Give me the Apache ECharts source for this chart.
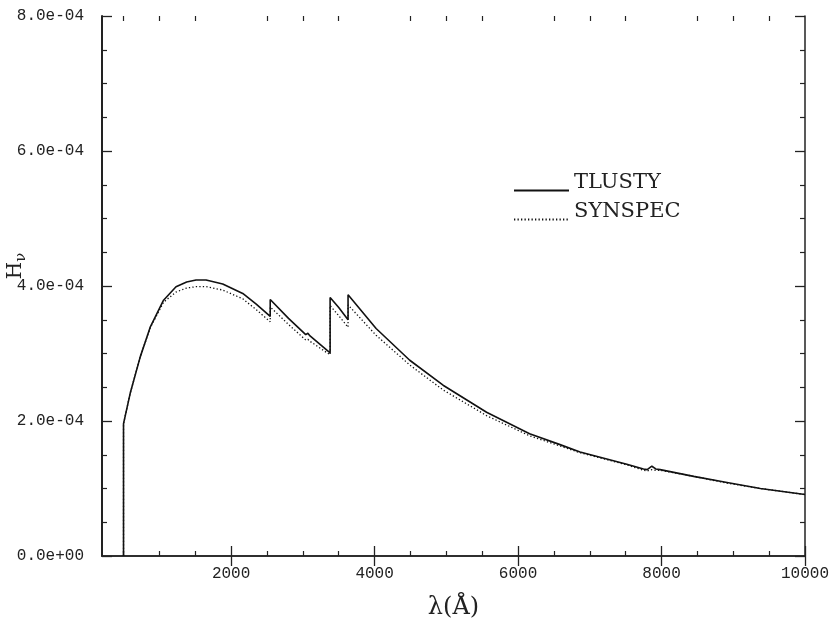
<!DOCTYPE html>
<html>
<head>
<meta charset="utf-8">
<script src="https://cdn.jsdelivr.net/npm/echarts@6/dist/echarts.min.js"></script>
<style>
html,body{margin:0;padding:0;background:#fff;}
#chart{width:833px;height:622px;}
</style>
</head>
<body>
<div id="chart"></div>
<script>
// ---- data (wavelength in Angstrom, H_nu) ----
const lambdaTlusty = [500, 500, 593, 733, 872, 1058, 1232, 1380, 1511, 1651, 1883, 2162, 2350, 2545, 2545, 2800, 3040, 3070, 3100, 3380, 3380, 3500, 3630, 3630, 4021, 4490, 4955, 5561, 6161, 6585, 6864, 7050, 7516, 7748, 7800, 7865, 7920, 7981, 8447, 8913, 9378, 10000];
const hTlusty = [0, 1.96e-4, 2.41e-4, 2.95e-4, 3.39e-4, 3.79e-4, 3.99e-4, 4.06e-4, 4.09e-4, 4.09e-4, 4.03e-4, 3.89e-4, 3.73e-4, 3.55e-4, 3.80e-4, 3.52e-4, 3.28e-4, 3.30e-4, 3.26e-4, 3.01e-4, 3.83e-4, 3.68e-4, 3.50e-4, 3.87e-4, 3.37e-4, 2.90e-4, 2.53e-4, 2.13e-4, 1.81e-4, 1.65e-4, 1.54e-4, 1.49e-4, 1.36e-4, 1.29e-4, 1.28e-4, 1.33e-4, 1.29e-4, 1.28e-4, 1.18e-4, 1.09e-4, 1.00e-4, 0.91e-4];

const lambdaSynspec = [500, 500, 593, 733, 872, 1058, 1232, 1380, 1511, 1651, 1883, 2162, 2350, 2545, 2545, 2800, 3040, 3070, 3100, 3380, 3380, 3500, 3630, 3630, 4021, 4490, 4955, 5561, 6161, 6585, 6864, 7050, 7516, 7748, 7800, 7865, 7920, 7981, 8447, 8913, 9378, 10000];
const hSynspec = [0, 1.96e-4, 2.41e-4, 2.95e-4, 3.38e-4, 3.76e-4, 3.91e-4, 3.97e-4, 3.99e-4, 3.99e-4, 3.94e-4, 3.81e-4, 3.65e-4, 3.47e-4, 3.69e-4, 3.43e-4, 3.20e-4, 3.21e-4, 3.18e-4, 2.98e-4, 3.71e-4, 3.56e-4, 3.39e-4, 3.72e-4, 3.27e-4, 2.83e-4, 2.46e-4, 2.08e-4, 1.78e-4, 1.63e-4, 1.53e-4, 1.48e-4, 1.35e-4, 1.27e-4, 1.26e-4, 1.28e-4, 1.27e-4, 1.27e-4, 1.18e-4, 1.08e-4, 1.00e-4, 0.91e-4];

const seriesNames = ['TLUSTY', 'SYNSPEC'];
const xMajorTicks = [2000, 4000, 6000, 8000, 10000];
const xMinorTicks = [500, 1000, 1500, 2500, 3000, 3500, 4500, 5000, 5500, 6500, 7000, 7500, 8500, 9000, 9500];
const yTickLabels = ['0.0e+00', '2.0e-04', '4.0e-04', '6.0e-04', '8.0e-04'];
const xMin = 200, xMax = 10000, yMin = 0, yMax = 8e-4, yStep = 2e-4;

function pairs(xs, ys) { return xs.map((x, i) => [x, ys[i]]); }

const axisColor = '#222';
const gridRect = { left: 102, right: 28, top: 16, bottom: 66 };
const tickFont = 'Liberation Mono';

const chart = echarts.init(document.getElementById('chart'), null, { renderer: 'canvas' });

function xAxisMajor(pos, gridIndex, showLabel) {
  return {
    type: 'value', gridIndex: gridIndex, position: pos, min: xMin, max: xMax,
    axisLine: { show: true, lineStyle: { color: axisColor, width: 1.5 } },
    axisTick: { show: true, inside: true, length: 10, customValues: xMajorTicks, lineStyle: { color: axisColor, width: 1.3 } },
    axisLabel: {
      show: showLabel, customValues: xMajorTicks, margin: 10,
      formatter: v => String(v),
      fontFamily: tickFont, fontSize: 16, color: axisColor
    },
    splitLine: { show: false }
  };
}
function xAxisMinor(pos, gridIndex) {
  return {
    type: 'value', gridIndex: gridIndex, position: pos, min: xMin, max: xMax,
    axisLine: { show: false },
    axisTick: { show: true, inside: true, length: 5, customValues: xMinorTicks, lineStyle: { color: axisColor, width: 1.2 } },
    axisLabel: { show: false },
    splitLine: { show: false }
  };
}
function yAxisDef(pos, showLabel, width) {
  return {
    type: 'value', gridIndex: 0, position: pos, min: yMin, max: yMax, interval: yStep,
    axisLine: { show: true, lineStyle: { color: axisColor, width: width } },
    axisTick: { show: true, inside: true, length: 10, lineStyle: { color: axisColor, width: 1.3 } },
    minorTick: { show: true, splitNumber: 4, length: 5, lineStyle: { color: axisColor, width: 1.2 } },
    axisLabel: {
      show: showLabel, margin: 18,
      formatter: (v, i) => yTickLabels[i],
      fontFamily: tickFont, fontSize: 16, color: axisColor
    },
    splitLine: { show: false }, minorSplitLine: { show: false }
  };
}

const xAxes = [
  Object.assign(xAxisMajor('bottom', 0, true), {
    name: 'λ(Å)', nameLocation: 'middle', nameGap: 40,
    nameTextStyle: { fontFamily: 'DejaVu Serif', fontSize: 24, color: axisColor }
  }),
  xAxisMajor('top', 0, false),
  xAxisMinor('bottom', 1),
  xAxisMinor('top', 1)
];
const yLeft = Object.assign(yAxisDef('left', true, 2), {
  name: '{h|H}{n|ν}', nameLocation: 'middle', nameGap: 73, nameRotate: 90,
  nameMoveOverlap: false,
  nameTextStyle: {
    padding: [0, 0, 0, 40],
    rich: {
      h: { fontFamily: 'DejaVu Serif', fontSize: 20, color: axisColor },
      n: { fontFamily: 'DejaVu Serif', fontSize: 15, color: axisColor, padding: [12, 0, 0, 0] }
    }
  }
});
const yAxes = [
  yLeft,
  yAxisDef('right', false, 1.5),
  { type: 'value', gridIndex: 1, min: yMin, max: yMax, show: false }
];

chart.setOption({
  animation: false,
  backgroundColor: '#fff',
  grid: [
    Object.assign({ containLabel: false, outerBoundsMode: 'none' }, gridRect),
    Object.assign({ containLabel: false, outerBoundsMode: 'none' }, gridRect)
  ],
  xAxis: xAxes,
  yAxis: yAxes,
  legend: {
    orient: 'vertical', left: 513, top: 172, padding: 0,
    itemWidth: 55, itemHeight: 14, itemGap: 5,
    data: seriesNames,
    formatter: '{t|{name}}',
    itemStyle: { color: 'rgba(0,0,0,0)', borderColor: 'rgba(0,0,0,0)', borderWidth: 0 },
    textStyle: {
      color: axisColor,
      rich: { t: { fontFamily: 'DejaVu Serif', fontSize: 21, color: axisColor, padding: [0, 0, 16, 0] } }
    }
  },
  series: [
    {
      name: seriesNames[0], type: 'line', xAxisIndex: 0, yAxisIndex: 0, symbol: 'none',
      data: pairs(lambdaTlusty, hTlusty),
      lineStyle: { color: '#111', width: 1.6 }, itemStyle: { color: '#111' }, z: 3
    },
    {
      name: seriesNames[1], type: 'line', xAxisIndex: 0, yAxisIndex: 0, symbol: 'none',
      data: pairs(lambdaSynspec, hSynspec),
      lineStyle: { color: '#111', width: 1.3, type: [1.3, 2.2] }, itemStyle: { color: '#111' }, z: 2
    }
  ]
});
</script>
</body>
</html>
